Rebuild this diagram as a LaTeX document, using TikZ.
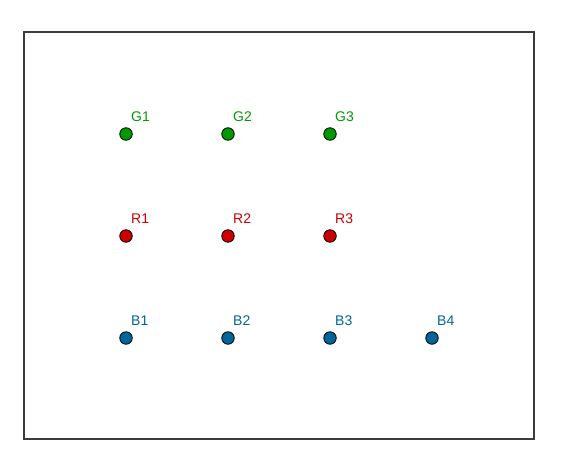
\documentclass[tikz,border=0pt]{standalone}
\usepackage{fontspec}
\setmainfont{Liberation Sans}
\definecolor{ggreen}{RGB}{0,153,0}
\definecolor{gred}{RGB}{204,0,0}
\definecolor{gblue}{RGB}{0,102,153}
\definecolor{frame}{RGB}{60,60,60}
\begin{document}
\begin{tikzpicture}[x=1pt,y=-1pt,
  pt/.style={circle,draw=black,line width=0.8pt,inner sep=0pt,minimum size=12.5pt},
  lbl/.style={anchor=base west,inner sep=0pt,font=\fontsize{14}{14}\selectfont}]
\useasboundingbox (0,0) rectangle (564,466);
\draw[frame,line width=2.2pt] (24,32) rectangle (534,439);
\foreach \n/\x in {1/126,2/228,3/330}{
  \node[pt,fill=ggreen] (G\n) at (\x,134) {};
  \node[lbl,text=ggreen] (lG\n) at (\x+5,121) {G\n};
  \node[pt,fill=gred] (R\n) at (\x,236) {};
  \node[lbl,text=gred] (lR\n) at (\x+5,223) {R\n};
}
\foreach \n/\x in {1/126,2/228,3/330,4/432}{
  \node[pt,fill=gblue] (B\n) at (\x,338) {};
  \node[lbl,text=gblue] (lB\n) at (\x+5,325) {B\n};
}
\end{tikzpicture}
\end{document}
